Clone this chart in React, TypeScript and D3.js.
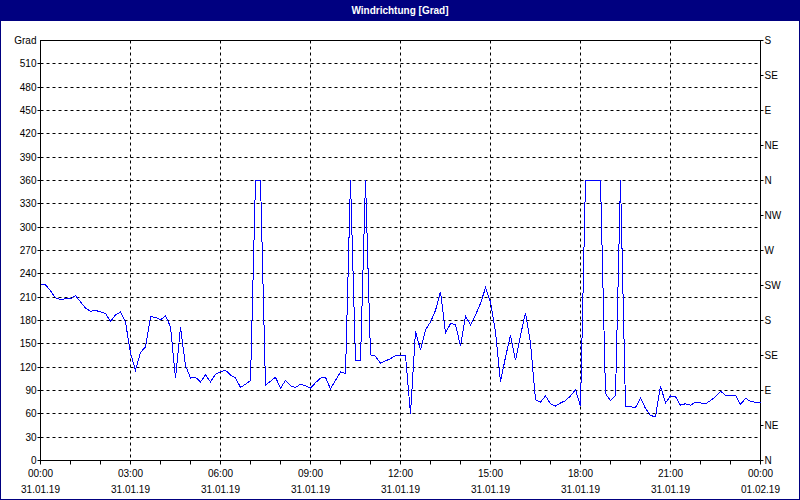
import React, { useEffect, useRef } from "react";
import * as d3 from "d3";

const TITLE = "Windrichtung [Grad]";
const START = new Date(2019, 0, 31, 0, 0);
const END = new Date(2019, 1, 1, 0, 0);
const STEP_MINUTES = 10;

// wind direction in degrees, one reading every 10 minutes
const DIRECTION = [
  227, 226, 218, 209, 207, 208, 208, 212, 204, 196, 192, 193, 191, 189, 179,
  187, 191, 178, 138, 116, 139, 146, 185, 184, 181, 186, 172, 106, 171, 122,
  106, 107, 101, 110, 101, 111, 114, 116, 110, 106, 94, 98, 103, 360, 360, 97,
  102, 107, 93, 103, 96, 94, 98, 96, 93, 100, 106, 107, 92, 103, 114, 112, 360,
  129, 129, 360, 136, 134, 125, 128, 131, 135, 135, 135, 60, 166, 142, 168,
  178, 193, 217, 164, 176, 175, 147, 186, 174, 187, 202, 222, 204, 166, 101,
  133, 161, 129, 161, 190, 151, 78, 75, 83, 73, 70, 74, 77, 83, 91, 70, 360,
  360, 360, 360, 86, 77, 84, 360, 70, 69, 68, 80, 67, 58, 56, 96, 74, 83, 82,
  71, 73, 71, 75, 74, 73, 77, 82, 89, 84, 84, 84, 72, 80, 76, 75, 75,
];

const LEFT_TICKS = [0, 30, 60, 90, 120, 150, 180, 210, 240, 270, 300, 330, 360, 390, 420, 450, 480, 510];
const LEFT_UNIT = "Grad";
const RIGHT_TICKS = [0, 45, 90, 135, 180, 225, 270, 315, 360, 405, 450, 495, 540];
const RIGHT_LABELS = ["N", "NE", "E", "SE", "S", "SW", "W", "NW", "N", "NE", "E", "SE", "S"];

const FONT = "'Liberation Sans', Arial, sans-serif";

export default function App() {
  const ref = useRef(null);

  useEffect(() => {
    const svg = d3.select(ref.current);
    svg.selectAll("*").remove();

    const left = 40.5,
      right = 760.5,
      top = 40.5,
      bottom = 460.5;

    const x = d3.scaleTime().domain([START, END]).range([left, right]);
    const y = d3.scaleLinear().domain([0, 540]).range([bottom, top]);
    const py = (v) => Math.round(y(v) - 0.5) + 0.5;

    svg.append("rect").attr("width", 800).attr("height", 500).attr("fill", "#fff");

    // title bar
    svg.append("rect").attr("width", 800).attr("height", 21).attr("fill", "#000080");
    svg
      .append("text")
      .attr("x", 400)
      .attr("y", 14)
      .attr("text-anchor", "middle")
      .attr("fill", "#fff")
      .attr("font-family", FONT)
      .attr("font-size", 10)
      .attr("font-weight", "bold")
      .text(TITLE);

    // window frame
    svg
      .append("rect")
      .attr("x", 0.5)
      .attr("y", 0.5)
      .attr("width", 799)
      .attr("height", 499)
      .attr("fill", "none")
      .attr("stroke", "#000080");

    // grid
    const grid = svg.append("g").attr("stroke", "#000").attr("stroke-dasharray", "3,3");
    LEFT_TICKS.filter((v) => v > 0).forEach((v) => {
      grid.append("line").attr("x1", left).attr("x2", right).attr("y1", py(v)).attr("y2", py(v));
    });
    const majorHours = d3.timeHour.every(3).range(START, END).filter((d) => +d > +START);
    majorHours.forEach((d) => {
      grid.append("line").attr("x1", x(d)).attr("x2", x(d)).attr("y1", top).attr("y2", bottom);
    });

    // frame of the plot
    svg
      .append("rect")
      .attr("x", left)
      .attr("y", top)
      .attr("width", right - left)
      .attr("height", bottom - top)
      .attr("fill", "none")
      .attr("stroke", "#000");

    // left axis
    const la = svg.append("g").attr("font-family", FONT).attr("font-size", 10).attr("fill", "#000");
    LEFT_TICKS.forEach((v) => {
      la.append("line").attr("x1", left - 3).attr("x2", left).attr("y1", py(v)).attr("y2", py(v)).attr("stroke", "#000");
      la.append("text").attr("x", left - 4).attr("y", py(v) + 3.5).attr("text-anchor", "end").text(v);
    });
    la.append("text").attr("x", left - 4).attr("y", py(540) + 3.5).attr("text-anchor", "end").text(LEFT_UNIT);

    // right axis
    const ra = svg.append("g").attr("font-family", FONT).attr("font-size", 10).attr("fill", "#000");
    RIGHT_TICKS.forEach((v, i) => {
      ra.append("line").attr("x1", right).attr("x2", right + 3).attr("y1", py(v)).attr("y2", py(v)).attr("stroke", "#000");
      ra.append("text").attr("x", right + 4).attr("y", py(v) + 3.5).text(RIGHT_LABELS[i]);
    });

    // bottom axis
    const ba = svg.append("g").attr("font-family", FONT).attr("font-size", 10).attr("fill", "#000");
    d3.timeHour.range(START, d3.timeHour.offset(END, 1)).forEach((d) => {
      ba.append("line").attr("x1", x(d)).attr("x2", x(d)).attr("y1", bottom).attr("y2", bottom + 4).attr("stroke", "#000");
    });
    const fmtTime = d3.timeFormat("%H:%M");
    const fmtDate = d3.timeFormat("%d.%m.%y");
    d3.timeHour
      .every(3)
      .range(START, d3.timeHour.offset(END, 1))
      .forEach((d) => {
        ba.append("text").attr("x", x(d)).attr("y", 477).attr("text-anchor", "middle").text(fmtTime(d));
        ba.append("text").attr("x", x(d)).attr("y", 493).attr("text-anchor", "middle").text(fmtDate(d));
      });

    // series
    const line = d3
      .line()
      .x((d, i) => x(d3.timeMinute.offset(START, i * STEP_MINUTES)))
      .y((d) => y(d));
    svg
      .append("path")
      .datum(DIRECTION)
      .attr("d", line)
      .attr("fill", "none")
      .attr("stroke", "#0000ff")
      .attr("stroke-width", 1)
      .attr("shape-rendering", "crispEdges");
  }, []);

  return (
    <svg
      ref={ref}
      width={800}
      height={500}
      style={{ position: "absolute", left: 0, top: 0, display: "block" }}
    ></svg>
  );
}
